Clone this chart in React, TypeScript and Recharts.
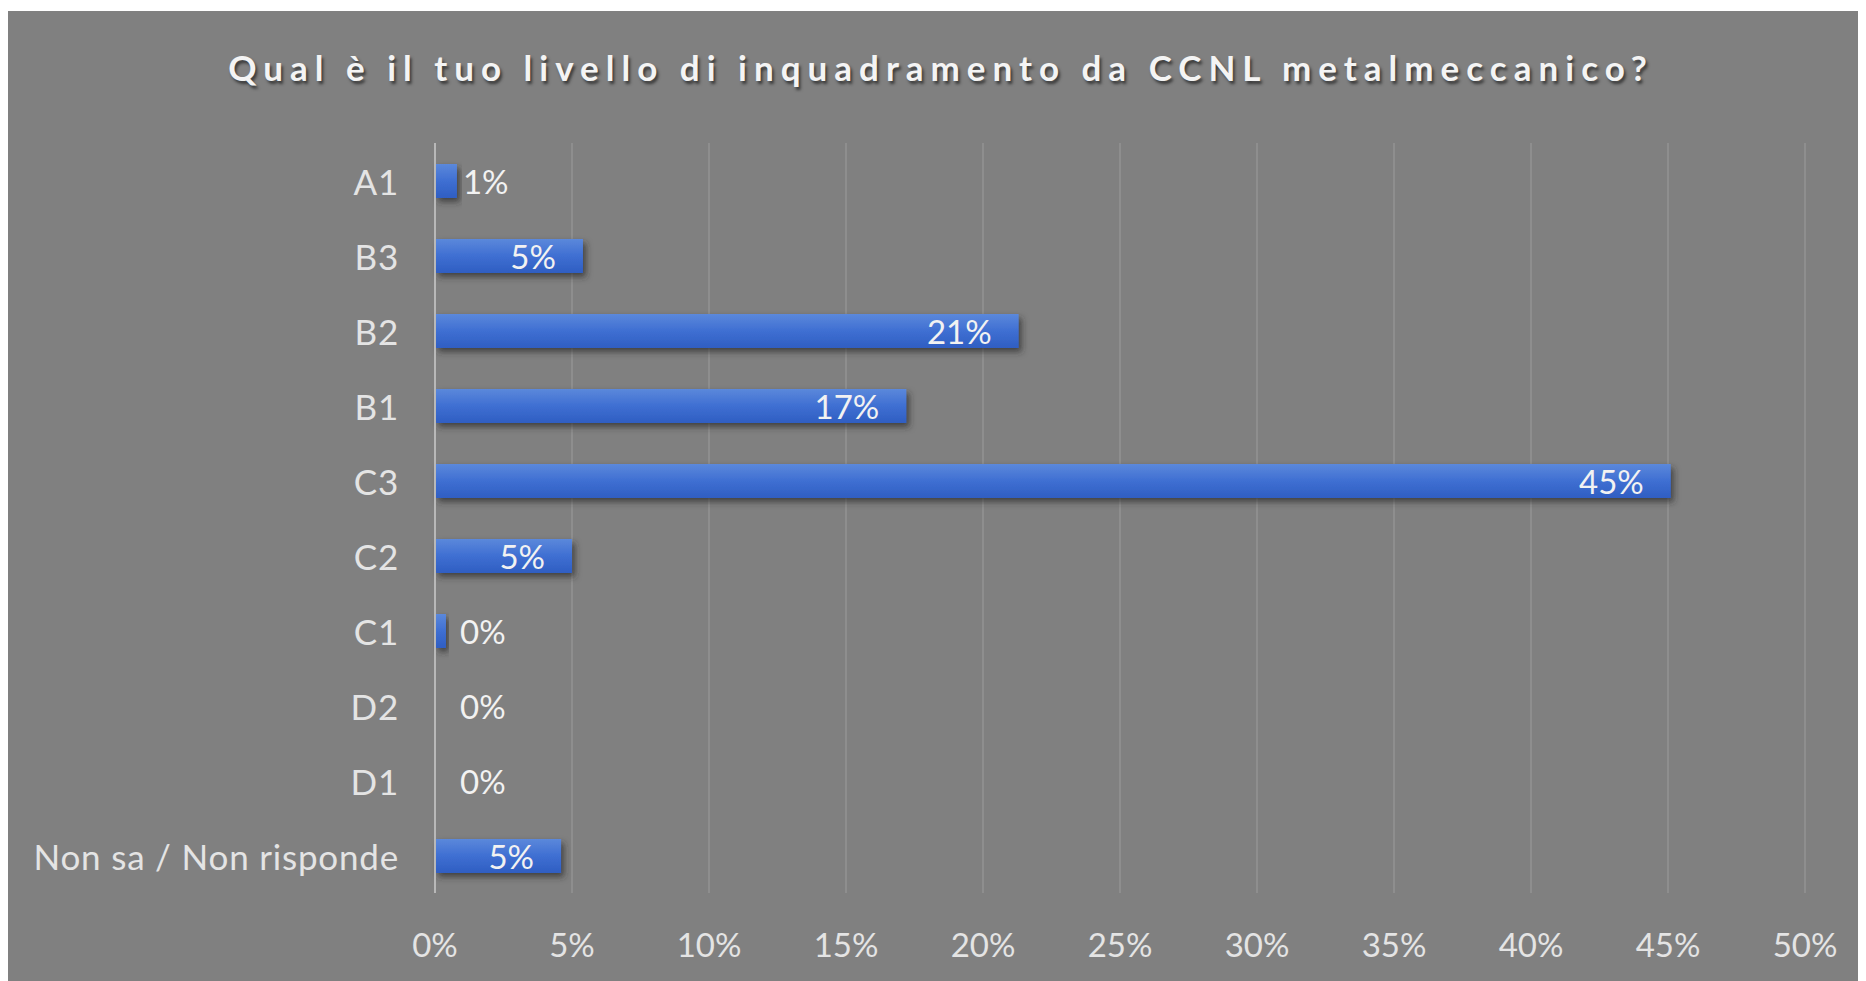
import React from "react";
import {
  BarChart,
  Bar,
  XAxis,
  YAxis,
  CartesianGrid,
  ReferenceLine,
} from "recharts";

// Survey answers, top to bottom as drawn
const categories = ["A1", "B3", "B2", "B1", "C3", "C2", "C1", "D2", "D1", "Non sa / Non risponde"];
const shares = [0.8, 5.4, 21.3, 17.2, 45.1, 5.0, 0.4, 0, 0, 4.6];
const xTicks = [0, 5, 10, 15, 20, 25, 30, 35, 40, 45, 50];

const data = categories.map((name, i) => ({ name, value: shares[i] }));

const FONT = "Lato, 'Open Sans', sans-serif";
const TEXT = "#e4e4e4";

const YTick = ({ x, y, payload }: any) => (
  <text
    x={x - 28}
    y={y}
    textAnchor="end"
    dominantBaseline="central"
    fill={TEXT}
    fontSize={35}
    letterSpacing={0.8}
    fontFamily={FONT}
  >
    {payload.value}
  </text>
);

const XTick = ({ x, y, payload }: any) => (
  <text
    x={x}
    y={y + 43}
    textAnchor="middle"
    dominantBaseline="central"
    fill={TEXT}
    fontSize={33}
    fontFamily={FONT}
  >
    {payload.value}%
  </text>
);

// bar + Excel-style "inside end" label, pushed outside when the bar is too short
const BarShape = (props: any) => {
  const { x, y, width, height, payload } = props;
  const w = Math.max(0, width || 0);
  const small = w < 60;
  return (
    <g>
      {w > 0 && (
        <rect
          x={x}
          y={y}
          width={w}
          height={height}
          fill="url(#barFill)"
          filter="url(#barShadow)"
        />
      )}
      <text
        x={small ? x + Math.max(w + 6, 25) : x + w - 27}
        y={y + height / 2}
        textAnchor={small ? "start" : "end"}
        dominantBaseline="central"
        fill="#f2f2f2"
        fontSize={33}
        fontFamily={FONT}
      >
        {Math.round(payload.value)}%
      </text>
    </g>
  );
};

export default function App() {
  return (
    <div
      style={{
        position: "relative",
        marginTop: 3,
        width: 1858,
        height: 970,
        background: "#808080",
      }}
    >
      <div
        style={{
          position: "absolute",
          top: 35,
          left: 0,
          width: 1858,
          paddingLeft: 8,
          boxSizing: "border-box",
          textAlign: "center",
          color: "#f4f4f4",
          fontFamily: FONT,
          fontWeight: 700,
          fontSize: 35,
          letterSpacing: 7,
          textShadow: "2px 3px 3px rgba(40,40,40,0.8)",
        }}
      >
        Qual è il tuo livello di inquadramento da CCNL metalmeccanico?
      </div>
      <BarChart
        layout="vertical"
        width={1858}
        height={970}
        data={data}
        margin={{ top: 132, right: 61, bottom: 28, left: 0 }}
        barSize={34}
      >
        <defs>
          <linearGradient id="barFill" x1="0" y1="0" x2="0" y2="1">
            <stop offset="0%" stopColor="#5b88db" />
            <stop offset="50%" stopColor="#3f6fd2" />
            <stop offset="100%" stopColor="#2f5ec2" />
          </linearGradient>
          <filter id="barShadow" x="-10%" y="-30%" width="130%" height="190%">
            <feDropShadow dx="3" dy="4" stdDeviation="3" floodColor="#2a2a2a" floodOpacity="0.7" />
          </filter>
        </defs>
        <CartesianGrid horizontal={false} stroke="#8e8e8e" strokeWidth={2} />
        <XAxis
          type="number"
          domain={[0, 50]}
          ticks={xTicks}
          axisLine={false}
          tickLine={false}
          height={60}
          tick={<XTick />}
        />
        <YAxis
          type="category"
          dataKey="name"
          width={427}
          axisLine={false}
          tickLine={false}
          interval={0}
          tick={<YTick />}
        />
        <ReferenceLine x={0} stroke="#b8b8b8" strokeWidth={2} />
        <Bar dataKey="value" shape={BarShape} isAnimationActive={false} />
      </BarChart>
    </div>
  );
}
